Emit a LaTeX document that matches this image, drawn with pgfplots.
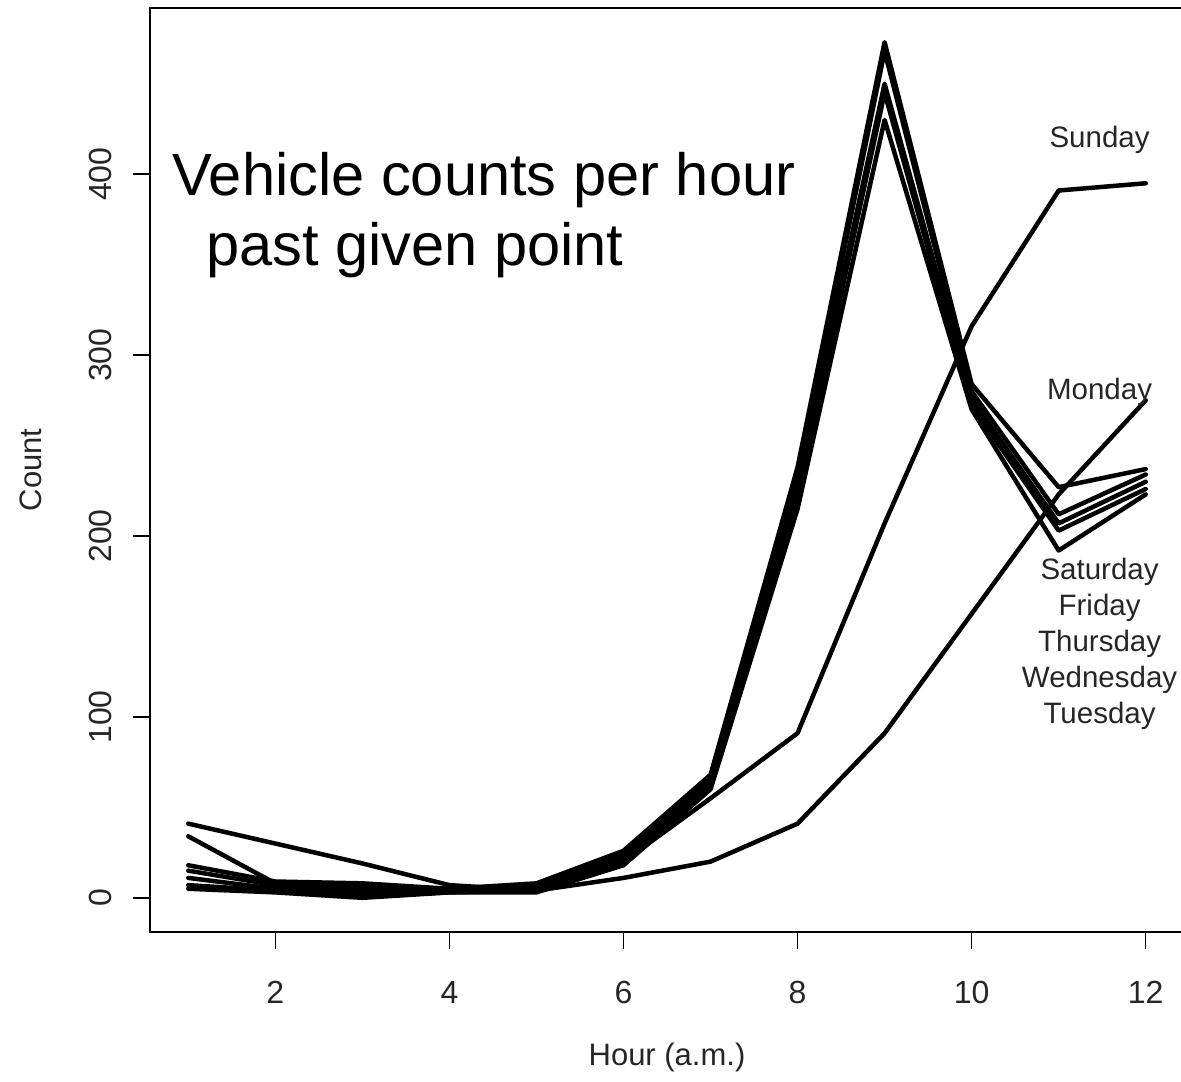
\documentclass[border=0pt]{standalone}
\usepackage{fontspec}
\setmainfont{Liberation Sans}
\usepackage{pgfplots}
\pgfplotsset{compat=1.18}
\begin{document}
\begin{tikzpicture}
\begin{axis}[
  at={(75pt,74.5pt)}, anchor=south west,
  scale only axis, width=517pt, height=462pt,
  xmin=0.56, xmax=12.44, ymin=-18.9, ymax=491.9,
  xtick={2,4,6,8,10,12}, ytick={0,100,200,300,400},
  xtick pos=left, ytick pos=left,
  tick align=outside, major tick length=8.5pt,
  tick style={line width=0.75pt, black},
  axis line style={line width=1pt},
  /pgf/number format/assume math mode=true,
  ticklabel style={font=\fontsize{16}{16}\selectfont, text=black!85},
  xticklabel style={anchor=north, inner sep=0pt},
  xticklabel shift=16pt,
  yticklabel style={rotate=90, anchor=south, inner sep=0pt},
  yticklabel shift=10.5pt,
  xlabel={Hour (a.m.)}, ylabel={Count},
  label style={font=\fontsize{15.5}{15.5}\selectfont, text=black!85},
  xlabel style={at={(axis description cs:0.5,-0.1353)}, anchor=center},
  ylabel style={at={(axis description cs:-0.1151,0.5)}, anchor=center},
  dline/.style={black, line width=2.25pt, line cap=round, line join=round, mark=none},
]
% weekday A
\addplot[dline] coordinates {(1,18) (2,9) (3,8) (4,5) (5,8) (6,26) (7,68) (8,238) (9,473) (10,284) (11,227) (12,237)};
% weekday B
\addplot[dline] coordinates {(1,15) (2,7) (3,5) (4,4) (5,6) (6,24) (7,66) (8,232) (9,468) (10,280) (11,212) (12,234)};
% weekday C
\addplot[dline] coordinates {(1,11) (2,5) (3,3) (4,4) (5,5) (6,22) (7,64) (8,228) (9,450) (10,276) (11,207) (12,230)};
% weekday D
\addplot[dline] coordinates {(1,7) (2,4) (3,1) (4,3) (5,4) (6,20) (7,62) (8,222) (9,445) (10,272) (11,203) (12,226)};
% weekday E
\addplot[dline] coordinates {(1,5) (2,3) (3,0) (4,3) (5,3) (6,18) (7,60) (8,215) (9,430) (10,270) (11,192) (12,223)};
% line ending at Monday label
\addplot[dline] coordinates {(1,41) (2,30) (3,19) (4,7) (5,4) (6,11) (7,20) (8,41) (9,91) (10,157) (11,223) (12,275)};
% line ending at Sunday label
\addplot[dline] coordinates {(1,34) (2,8) (3,6) (4,4) (5,4) (6,20) (7,55) (8,91) (9,207) (10,316) (11,391) (12,395)};

\node[anchor=base west, inner sep=0pt, font=\fontsize{29.8}{29.8}\selectfont] at (axis cs:0.813,388.5) {Vehicle counts per hour};
\node[anchor=base west, inner sep=0pt, font=\fontsize{29.8}{29.8}\selectfont] at (axis cs:1.2,349.3) {past given point};

\begin{scope}[every node/.style={anchor=center, font=\fontsize{14.75}{14.75}\selectfont, text=black!85, inner sep=0pt}]
\node at (axis cs:11.47,418.9) {Sunday};
\node at (axis cs:11.47,279.5) {Monday};
\node at (axis cs:11.47,180.1) {Saturday};
\node at (axis cs:11.47,160.2) {Friday};
\node at (axis cs:11.47,140.3) {Thursday};
\node at (axis cs:11.47,120.4) {Wednesday};
\node at (axis cs:11.47,100.5) {Tuesday};
\end{scope}
\end{axis}
\pgfresetboundingbox
\path[use as bounding box] (0,0) rectangle (590.5pt,540.5pt);
\end{tikzpicture}
\end{document}
